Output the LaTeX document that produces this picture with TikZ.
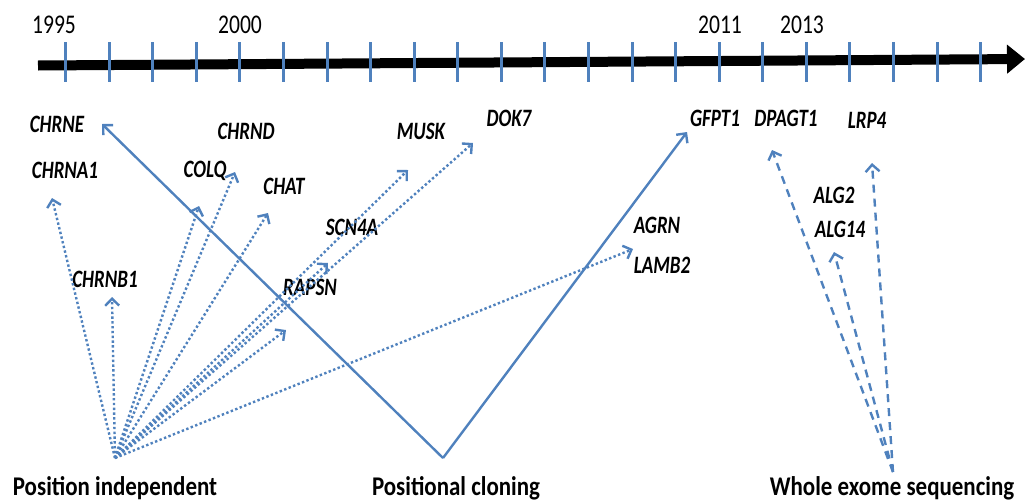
\documentclass[tikz,border=0pt]{standalone}
\usepackage{fontspec}
\usetikzlibrary{arrows.meta}
\newfontfamily\yearfont{Carlito}[FakeStretch=0.8]
\newfontfamily\genefont{Carlito}[FakeStretch=0.76]
\newfontfamily\methodfont{Carlito}[FakeStretch=0.85]
\definecolor{officeblue}{HTML}{4F81BD}
\tikzset{
  year/.style={font=\yearfont\fontsize{27}{27}\selectfont, inner sep=0pt, anchor=base},
  gene/.style={font=\genefont\bfseries\itshape\fontsize{25}{25}\selectfont, inner sep=0pt, anchor=base},
  method/.style={font=\methodfont\bfseries\fontsize{27}{27}\selectfont, inner sep=0pt, anchor=base},
  tick/.style={officeblue, line width=3pt},
  barb/.style={-{Straight Barb[length=7pt,width=14pt]}},
  independent/.style={barb, officeblue, line width=2.4pt, dash pattern=on 2.4pt off 2.4pt},
  cloning/.style={barb, officeblue, line width=2.4pt, line join=miter},
  exome/.style={barb, officeblue, line width=2.4pt, dash pattern=on 8pt off 6pt},
}
\begin{document}
\begin{tikzpicture}[x=1pt,y=-1pt]
\useasboundingbox (0,0) rectangle (1027,501);

% timeline
\coordinate (tlstart) at (38,65.5);
\coordinate (tlend) at (1025,59);
\draw[line width=10pt, -{Triangle[length=18pt,width=28pt]}] (tlstart) -- (tlend);
\foreach \i in {0,...,21}
  \draw[tick] ({65.7+\i*43.57},42) -- ({65.7+\i*43.57},82);

% year labels
\node[year] (y1995) at (54,33) {1995};
\node[year] (y2000) at (240,33) {2000};
\node[year] (y2011) at (720,33) {2011};
\node[year] (y2013) at (802,33) {2013};

% gene labels
\node[gene] (CHRNE)  at (57,132)  {CHRNE};
\node[gene] (CHRNA1) at (65,178)  {CHRNA1};
\node[gene] (CHRND)  at (246,139) {CHRND};
\node[gene] (COLQ)   at (205,177) {COLQ};
\node[gene] (CHAT)   at (284,194) {CHAT};
\node[gene] (CHRNB1) at (105,287) {CHRNB1};
\node[gene] (RAPSN)  at (310,295) {RAPSN};
\node[gene] (SCN4A)  at (352,235) {SCN4A};
\node[gene] (MUSK)   at (421,139) {MUSK};
\node[gene] (DOK7)   at (509,126) {DOK7};
\node[gene] (GFPT1)  at (715,126) {GFPT1};
\node[gene] (DPAGT1) at (786,126) {DPAGT1};
\node[gene] (LRP4)   at (867,128) {LRP4};
\node[gene] (ALG2)   at (834,203) {ALG2};
\node[gene] (ALG14)  at (840,237) {ALG14};
\node[gene] (AGRN)   at (657,233) {AGRN};
\node[gene] (LAMB2)  at (662,273) {LAMB2};

% method labels
\node[method] (indep) at (115,495) {Position independent};
\node[method] (clon)  at (456,495) {Positional cloning};
\node[method] (wes)   at (892,495) {Whole exome sequencing};

% arrow sources
\coordinate (srcIndep) at (115,458);
\coordinate (srcClon)  at (443,458);
\coordinate (srcWes)   at (893,472);

% arrow tips
\coordinate (toCHRNA1) at (52,198);
\coordinate (toCHRNB1) at (112,297);
\coordinate (toCOLQ)   at (199,206);
\coordinate (toCHRND)  at (235,172);
\coordinate (toCHAT)   at (268,213);
\coordinate (toSCN4A)  at (328,263);
\coordinate (toRAPSN)  at (286,330);
\coordinate (toMUSK)   at (408,170);
\coordinate (toDOK7)   at (473,143);
\coordinate (toLAMB2)  at (633,249);
\coordinate (toCHRNE)  at (102,124);
\coordinate (toGFPT1)  at (687,132);
\coordinate (toDPAGT1) at (772,150);
\coordinate (toALG14)  at (834,252);
\coordinate (toLRP4)   at (872,163);

% position independent discoveries
\foreach \t in {toCHRNA1,toCHRNB1,toCOLQ,toCHRND,toCHAT,toSCN4A,toRAPSN,toMUSK,toDOK7,toLAMB2}
  \draw[independent] (srcIndep) -- (\t);

% positional cloning
\draw[cloning] (srcClon) -- (toCHRNE);
\draw[cloning] (srcClon) -- (toGFPT1);

% whole exome sequencing
\foreach \t in {toDPAGT1,toALG14,toLRP4}
  \draw[exome] (srcWes) -- (\t);
\end{tikzpicture}
\end{document}
